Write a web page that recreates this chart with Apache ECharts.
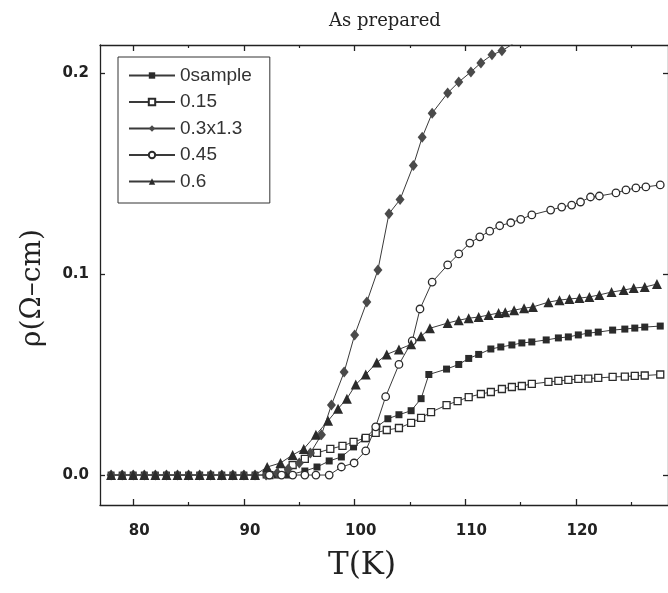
<!DOCTYPE html>
<html>
<head>
<meta charset="utf-8">
<title>As prepared</title>
<script src="https://cdn.jsdelivr.net/npm/echarts@6/dist/echarts.min.js"></script>
<style>
  html, body { margin: 0; padding: 0; background: #fff; }
  #chart { width: 668px; height: 593px; }
</style>
</head>
<body>
<div id="chart"></div>
<script>
// Resistivity vs temperature, as-prepared samples
var seriesNames = ['0sample', '0.15', '0.3x1.3', '0.45', '0.6'];

var xMajorTicks = [80, 90, 100, 110, 120];
var xMinorTicks = [85, 95, 105, 115, 125];
var yMajorTicks = [0, 0.1, 0.2];

// 0sample (filled squares)
var tempS0 = [78, 79, 80, 81, 82, 83, 84, 85, 86, 87, 88, 89, 90, 91, 92, 93, 94,
  95.5, 96.6, 97.7, 98.8, 99.9, 100.9, 102.0, 103.0, 104.0, 105.1, 106.0, 106.7,
  108.3, 109.4, 110.3, 111.2, 112.3, 113.2, 114.2, 115.1, 116.0, 117.3, 118.4, 119.3,
  120.2, 121.1, 122.0, 123.3, 124.4, 125.3, 126.2, 127.6];
var rhoS0 = [0, 0, 0, 0, 0, 0, 0, 0, 0, 0, 0, 0, 0, 0, 0, 0, 0,
  0.002, 0.004, 0.007, 0.009, 0.014, 0.018, 0.024, 0.028, 0.030, 0.032, 0.038, 0.050,
  0.0527, 0.055, 0.058, 0.060, 0.0627, 0.0637, 0.0647, 0.0657, 0.0662, 0.0672, 0.0682, 0.0687,
  0.0697, 0.0706, 0.0711, 0.0721, 0.0726, 0.0731, 0.0736, 0.0741];

// 0.15 (open squares)
var tempS15 = [92.3, 93.4, 94.4, 95.5, 96.6, 97.8, 98.9, 99.9, 101.0, 101.9, 102.9, 104.0,
  105.1, 106.0, 106.9, 108.3, 109.3, 110.3, 111.4, 112.3, 113.3, 114.2, 115.1, 116.0,
  117.5, 118.4, 119.3, 120.2, 121.1, 122.0, 123.3, 124.4, 125.3, 126.2, 127.6];
var rhoS15 = [0.000, 0.002, 0.005, 0.008, 0.011, 0.013, 0.0145, 0.0165, 0.0185, 0.021, 0.0224, 0.0234,
  0.0259, 0.0284, 0.0313, 0.0348, 0.0368, 0.0388, 0.0403, 0.0413, 0.0428, 0.0438, 0.0443, 0.0453,
  0.0463, 0.0468, 0.0473, 0.0478, 0.0480, 0.0483, 0.0488, 0.0490, 0.0493, 0.0495, 0.0500];

// 0.3 scaled by 1.3 (filled diamonds)
var tempS30 = [78, 79, 80, 81, 82, 83, 84, 85, 86, 87, 88, 89, 90, 91, 92,
  93, 94, 95, 96, 97, 97.9, 99.05, 100.0, 101.1, 102.1, 103.1, 104.1, 105.3, 106.1,
  107.0, 108.4, 109.4, 110.5, 111.4, 112.4, 113.3, 114.3, 115.3];
var rhoS30 = [0, 0, 0, 0, 0, 0, 0, 0, 0, 0, 0, 0, 0, 0, 0,
  0.001, 0.003, 0.006, 0.011, 0.020, 0.0348, 0.0512, 0.0697, 0.0861, 0.102, 0.130, 0.137, 0.154, 0.168,
  0.180, 0.190, 0.1955, 0.2005, 0.205, 0.209, 0.211, 0.2145, 0.2175];

// 0.45 (open circles)
var tempS45 = [92.3, 93.4, 94.4, 95.5, 96.5, 97.7, 98.8, 99.95, 101.0, 101.9, 102.8, 104.0,
  105.2, 105.9, 107.0, 108.4, 109.4, 110.4, 111.3, 112.2, 113.1, 114.1, 115.0, 116.0,
  117.7, 118.7, 119.6, 120.4, 121.3, 122.1, 123.6, 124.5, 125.4, 126.3, 127.6];
var rhoS45 = [0, 0, 0, 0, 0, 0, 0.004, 0.006, 0.012, 0.024, 0.039, 0.055,
  0.0667, 0.0826, 0.096, 0.1045, 0.110, 0.1154, 0.1185, 0.1213, 0.124, 0.1255, 0.1272, 0.1294,
  0.1318, 0.1333, 0.1343, 0.1358, 0.1383, 0.1388, 0.1403, 0.1418, 0.1428, 0.1433, 0.1443];

// 0.6 (filled triangles)
var tempS60 = [78, 79, 80, 81, 82, 83, 84, 85, 86, 87, 88, 89, 90, 91,
  92.1, 93.3, 94.4, 95.4, 96.5, 97.6, 98.5, 99.3, 100.1, 101.0, 102.0, 102.9, 104.0, 105.1,
  106.0, 106.8, 108.4, 109.4, 110.3, 111.2, 112.1, 113.0, 113.6, 114.4, 115.3, 116.1,
  117.5, 118.5, 119.4, 120.3, 121.2, 122.1, 123.2, 124.3, 125.2, 126.2, 127.3];
var rhoS60 = [0, 0, 0, 0, 0, 0, 0, 0, 0, 0, 0, 0, 0, 0,
  0.004, 0.006, 0.010, 0.013, 0.020, 0.027, 0.033, 0.038, 0.045, 0.050, 0.056, 0.060, 0.0625, 0.065,
  0.069, 0.073, 0.0756, 0.077, 0.078, 0.0786, 0.0796, 0.0806, 0.081, 0.082, 0.083, 0.0836,
  0.086, 0.087, 0.0876, 0.088, 0.0886, 0.0896, 0.091, 0.092, 0.093, 0.0935, 0.095];

function pairs(xs, ys) {
  return xs.map(function (x, i) { return [x, ys[i]]; });
}

var ink = '#2b2b2b';
var lineStyle = { color: '#3a3a3a', width: 1 };

function makeSeries(name, xs, ys, symbol, size, filled, fillColor) {
  return {
    name: name,
    type: 'line',
    data: pairs(xs, ys),
    symbol: symbol,
    symbolSize: size,
    showAllSymbol: true,
    clip: true,
    lineStyle: lineStyle,
    itemStyle: filled
      ? { color: fillColor || ink, borderWidth: 0 }
      : { color: '#ffffff', borderColor: ink, borderWidth: 1.3 },
    emphasis: { disabled: true },
    animation: false
  };
}

var chart = echarts.init(document.getElementById('chart'), null, { renderer: 'canvas' });

var tickFont = { fontFamily: 'DejaVu Sans', fontWeight: 'bold', fontSize: 15, color: '#222' };
function frameLine() {
  return { show: true, onZero: false, lineStyle: { color: '#222', width: 1.3 } };
}
var hiddenLine = { show: false, onZero: false };
var xRange = { type: 'value', min: 77, max: 128.3, splitLine: { show: false } };
var yRange = { type: 'value', min: -0.0149, max: 0.2139, splitLine: { show: false } };

chart.setOption({
  backgroundColor: '#ffffff',
  animation: false,
  grid: { left: 100, top: 45, right: -2, bottom: 88, containLabel: false },
  legend: {
    orient: 'vertical',
    left: 118,
    top: 57,
    padding: [9, 18, 12, 10],
    itemWidth: 46,
    itemHeight: 8,
    itemGap: 7.5,
    borderColor: '#333',
    borderWidth: 1,
    backgroundColor: '#fff',
    textStyle: { fontFamily: 'Liberation Sans', fontSize: 19, color: '#333' },
    data: seriesNames
  },
  xAxis: [
    Object.assign({}, xRange, {
      position: 'bottom',
      axisLine: frameLine(),
      axisTick: { show: true, inside: true, length: 6, customValues: xMajorTicks, lineStyle: { color: '#222', width: 1.3 } },
      axisLabel: Object.assign({ customValues: xMajorTicks, margin: 19, padding: [0, 0, 0, 12] }, tickFont)
    }),
    Object.assign({}, xRange, {
      position: 'bottom',
      axisLine: hiddenLine,
      axisTick: { show: true, inside: true, length: 3, customValues: xMinorTicks, lineStyle: { color: '#222', width: 1.2 } },
      axisLabel: { show: false }
    }),
    Object.assign({}, xRange, {
      position: 'top',
      axisLine: frameLine(),
      axisTick: { show: true, inside: true, length: 6, customValues: xMajorTicks, lineStyle: { color: '#222', width: 1.3 } },
      axisLabel: { show: false }
    }),
    Object.assign({}, xRange, {
      position: 'top',
      axisLine: hiddenLine,
      axisTick: { show: true, inside: true, length: 3, customValues: xMinorTicks, lineStyle: { color: '#222', width: 1.2 } },
      axisLabel: { show: false }
    })
  ],
  yAxis: [
    Object.assign({}, yRange, {
      position: 'left',
      axisLine: frameLine(),
      axisTick: { show: true, inside: true, length: 5, customValues: yMajorTicks, lineStyle: { color: '#222', width: 1.3 } },
      axisLabel: Object.assign({
        customValues: yMajorTicks, margin: 11,
        formatter: function (v) { return v.toFixed(1); }
      }, tickFont)
    }),
    Object.assign({}, yRange, {
      position: 'right',
      axisLine: frameLine(),
      axisTick: { show: true, inside: true, length: 5, customValues: yMajorTicks, lineStyle: { color: '#222', width: 1.3 } },
      axisLabel: { show: false }
    })
  ],
  series: [
    makeSeries(seriesNames[0], tempS0, rhoS0, 'rect', 7, true),
    makeSeries(seriesNames[1], tempS15, rhoS15, 'rect', 7, false),
    makeSeries(seriesNames[2], tempS30, rhoS30, 'diamond', [9, 11], true, '#4a4a4a'),
    makeSeries(seriesNames[3], tempS45, rhoS45, 'circle', 7.5, false),
    makeSeries(seriesNames[4], tempS60, rhoS60, 'triangle', 10, true)
  ],
  graphic: [
    {
      type: 'text', x: 385, y: 21,
      style: { text: 'As prepared', font: '18px "DejaVu Serif"', fill: '#222', align: 'center', verticalAlign: 'middle' }
    },
    {
      type: 'text', x: 362, y: 566,
      style: { text: 'T(K)', font: '31px "DejaVu Serif"', fill: '#222', align: 'center', verticalAlign: 'middle' }
    },
    {
      type: 'text', x: 33, y: 288, rotation: Math.PI / 2,
      style: { text: 'ρ(Ω–cm)', font: '28px "DejaVu Serif"', fill: '#222', align: 'center', verticalAlign: 'middle' }
    }
  ]
});
</script>
</body>
</html>
